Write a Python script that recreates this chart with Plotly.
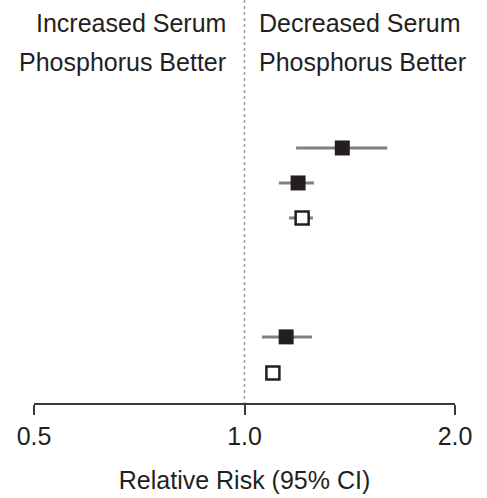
import plotly.graph_objects as go

# Data
row_pos = [0, 1, 2, 5.4, 6.43]
rr = [1.38, 1.193, 1.209, 1.147, 1.098]
ci_lo = [1.185, 1.120, 1.158, 1.059, 1.08]
ci_hi = [1.60, 1.257, 1.253, 1.249, 1.115]
filled = [True, True, False, True, False]

tick_vals = [0.5, 1.0, 2.0]
tick_text = ["0.5", "1.0", "2.0"]

FONT = "Liberation Sans, Arial, sans-serif"
TXT = "#231f20"

fig = go.Figure()

y_top, y_bot = -4.23, 7.29

# reference dotted line at RR = 1
fig.add_trace(go.Scatter(x=[1.0, 1.0], y=[y_top, y_bot], mode="lines",
                         line=dict(color="#9a9a9a", width=1.5, dash="dot"),
                         hoverinfo="skip", showlegend=False, cliponaxis=False))

for f in (True, False):
    idx = [i for i in range(len(rr)) if filled[i] == f]
    fig.add_trace(go.Scatter(
        x=[rr[i] for i in idx], y=[row_pos[i] for i in idx], mode="markers",
        error_x=dict(type="data", symmetric=False,
                     array=[ci_hi[i] - rr[i] for i in idx],
                     arrayminus=[rr[i] - ci_lo[i] for i in idx],
                     width=0, thickness=3, color="#808080"),
        marker=dict(symbol="square", size=15 if f else 13,
                    color=TXT if f else "white",
                    line=dict(color=TXT, width=0 if f else 2.5)),
        showlegend=False))

fig.update_xaxes(type="log", range=[-0.30103, 0.30103],
                 tickvals=tick_vals, ticktext=tick_text,
                 showline=True, linecolor="#3a3a3a", linewidth=2,
                 ticks="outside", ticklen=10, tickwidth=2, tickcolor="#3a3a3a",
                 showgrid=False, zeroline=False,
                 tickfont=dict(family=FONT, size=25, color=TXT),
                 title=dict(text="Relative Risk (95% CI)",
                            font=dict(family=FONT, size=25, color=TXT),
                            standoff=22))
fig.update_yaxes(range=[y_bot, y_top], visible=False, showgrid=False)

ann_font = dict(family=FONT, size=25, color=TXT)
for text, xp, xa, yp in [
    ("Increased Serum", 0.46, "right", 0.943),
    ("Phosphorus Better", 0.46, "right", 0.846),
    ("Decreased Serum", 0.53, "left", 0.943),
    ("Phosphorus Better", 0.53, "left", 0.846),
]:
    fig.add_annotation(text=text, x=xp, y=yp, xref="paper", yref="paper",
                       xanchor=xa, yanchor="middle", showarrow=False, font=ann_font)

fig.update_layout(width=487, height=498,
                  margin=dict(l=34, r=32, t=0, b=95),
                  plot_bgcolor="white", paper_bgcolor="white")

fig.write_html("out.html")
